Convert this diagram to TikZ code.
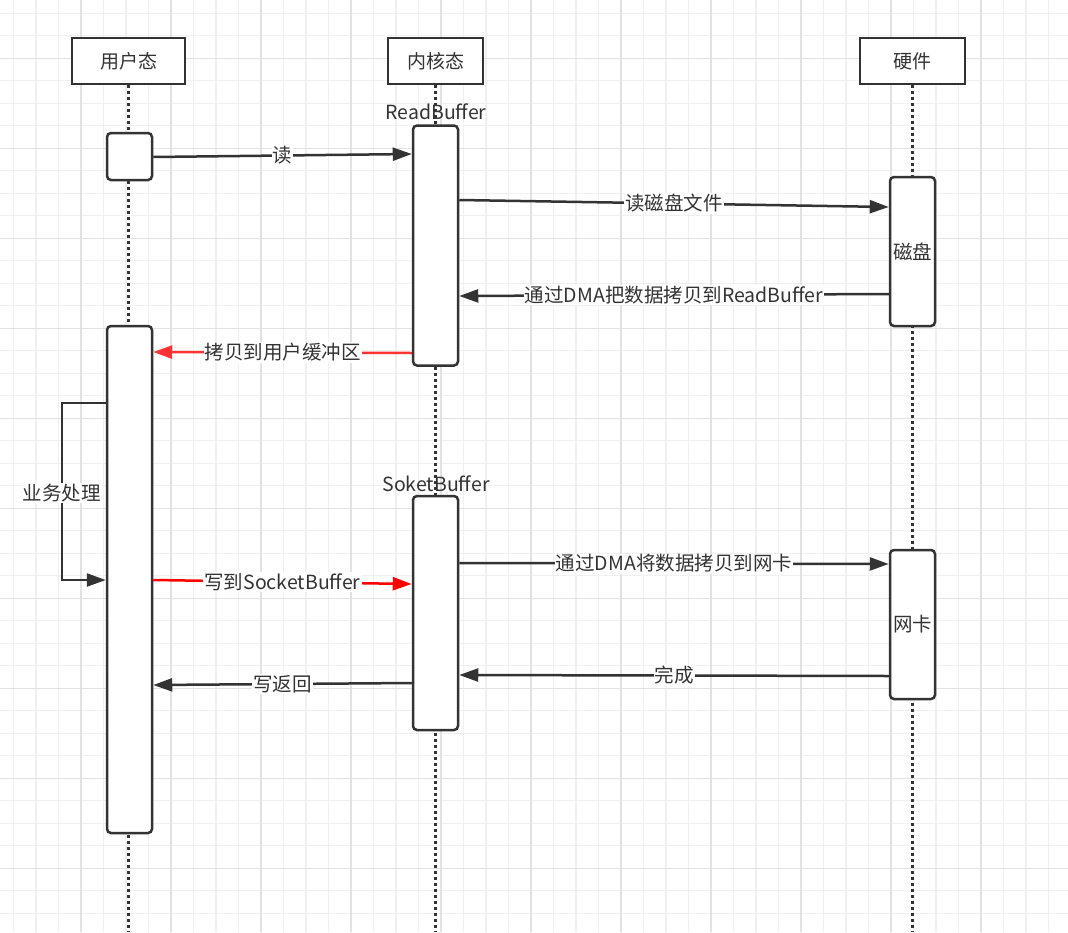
\documentclass[tikz,border=0pt]{standalone}
\usepackage{fontspec}
\setmainfont{Noto Sans CJK SC}
\usetikzlibrary{arrows.meta}
\definecolor{ink}{HTML}{333333}
\definecolor{redA}{HTML}{FF3333}
\definecolor{redB}{HTML}{FF0000}
\definecolor{gridminor}{HTML}{F0F0F0}
\definecolor{gridmajor}{HTML}{E2E2E2}
\begin{document}
\begin{tikzpicture}[x=1pt,y=-1pt,
  head/.style={draw=ink, line width=2.5pt, fill=white, minimum height=46pt, inner sep=0pt, text=ink, font=\fontsize{19}{22}\selectfont},
  act/.style={draw=ink, line width=2.5pt, fill=white, rounded corners=4pt, minimum width=45pt, inner sep=0pt, text=ink, font=\fontsize{19.5}{22}\selectfont},
  life/.style={ink, line width=2.7pt, dash pattern=on 3pt off 3pt},
  msg/.style={ink, line width=2.5pt, -{Triangle[length=19pt,width=13pt]}},
  redmsg/.style={msg, draw=#1, -{Triangle[length=19pt,width=13pt,fill=#1]}},
  lbl/.style={fill=white, inner sep=1pt, text=ink, font=\fontsize{19.5}{22}\selectfont},
  captext/.style={inner sep=0pt, text=ink, font=\fontsize{19.5}{22}\selectfont}
]
\useasboundingbox (0,0) rectangle (1068,932);
\fill[white] (0,0) rectangle (1068,932);
% grid
\foreach \i in {0,...,47} \draw[gridminor, line width=1.3pt] ({13.5+22.5*\i},0) -- ({13.5+22.5*\i},932);
\foreach \i in {0,...,41} \draw[gridminor, line width=1.3pt] (0,{13.3+22.5*\i}) -- (1068,{13.3+22.5*\i});
\foreach \i in {0,...,11} \draw[gridmajor, line width=1.3pt] ({81+90*\i},0) -- ({81+90*\i},932);
\foreach \i in {0,...,9} \draw[gridmajor, line width=1.3pt] (0,{58.3+90*\i}) -- (1068,{58.3+90*\i});

% headers
\node[head, minimum width=113pt] (h1) at (128.5,61) {用户态};
\node[head, minimum width=95pt] (h2) at (435.5,61) {内核态};
\node[head, minimum width=105pt] (h3) at (912.5,61) {硬件};

% lifelines
\coordinate (e1) at (h1.south |- 0,932);
\coordinate (e2) at (h2.south |- 0,932);
\coordinate (e3) at (h3.south |- 0,932);
\draw[life] (h1.south) -- (e1);
\draw[life] (h2.south) -- (e2);
\draw[life] (h3.south) -- (e3);

% activations
\node[act, minimum height=47pt] (a1) at (129.5,156.5) {};
\node[act, minimum height=240pt] (rb) at (435.5,245.5) {};
\node[act, minimum height=149pt] (disk) at (912.5,251.5) {磁盘};
\node[act, minimum height=507pt] (ub) at (129.5,579.5) {};
\node[act, minimum height=234pt] (sb) at (435.5,613) {};
\node[act, minimum height=149pt] (nic) at (912.5,624.5) {网卡};

\node[captext] (rbl) at (436,112) {ReadBuffer};
\node[captext] (sbl) at (436,484) {SoketBuffer};

% messages
\draw[msg] (a1.east |- 0,157) -- node[lbl] {读} (rb.west |- 0,154);
\draw[msg] (rb.east |- 0,200) -- node[lbl, pos=0.5] {读磁盘文件} (disk.west |- 0,207);
\draw[msg] (disk.west |- 0,294) -- node[lbl] {通过DMA把数据拷贝到ReadBuffer} (rb.east |- 0,296);
\draw[redmsg=redA] (rb.west |- 0,353) -- node[lbl] {拷贝到用户缓冲区} (ub.east |- 0,352);

\coordinate (l1) at (62,403);
\coordinate (l2) at (62,580);
\draw[msg] (ub.west |- 0,403) -- (l1) -- node[lbl, pos=0.51] {业务处理} (l2) -- (ub.west |- 0,580);

\draw[redmsg=redB] (ub.east |- 0,580) -- node[lbl] {写到SocketBuffer} (sb.west |- 0,584);
\draw[msg] (sb.east |- 0,563) -- node[lbl] {通过DMA将数据拷贝到网卡} (nic.west |- 0,564);
\draw[msg] (nic.west |- 0,676) -- node[lbl] {完成} (sb.east |- 0,675);
\draw[msg] (sb.west |- 0,683) -- node[lbl] {写返回} (ub.east |- 0,685);
\end{tikzpicture}
\end{document}
